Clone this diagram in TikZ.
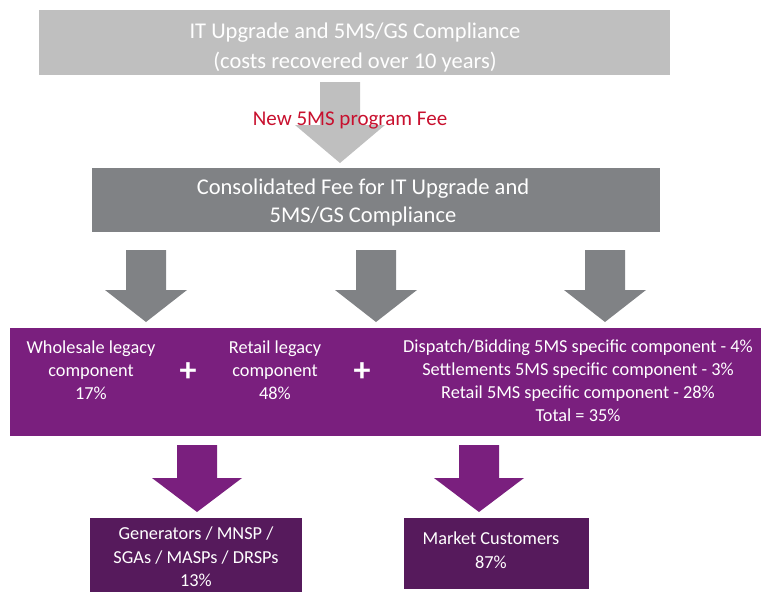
\documentclass[tikz,border=0pt]{standalone}
\usepackage{fontspec}
\setmainfont{Carlito}
\definecolor{lightgrey}{HTML}{BFBFBF}
\definecolor{midgrey}{HTML}{808285}
\definecolor{plum}{HTML}{7A1F7E}
\definecolor{darkplum}{HTML}{561A5C}
\definecolor{feered}{HTML}{C8102E}
% block arrow: centre x, top y, y where the head starts, tip y, half shaft width, half head width, colour
\newcommand\blockarrow[7]{%
  \fill[#7] (#1-#5,#2) -- (#1+#5,#2) -- (#1+#5,#3) -- (#1+#6,#3) -- (#1,#4)
    -- (#1-#6,#3) -- (#1-#5,#3) -- cycle;}
\begin{document}
\begin{tikzpicture}[x=1pt,y=-1pt,
  box/.style={inner sep=0pt,align=center,text=white},
  bandtext/.style={align=center,text=white,font=\fontsize{18.3}{23}\selectfont},
  plus/.style={text=white,font=\fontsize{34}{34}\selectfont\bfseries},
]
\useasboundingbox (0,0) rectangle (761,592);

% top cost box
\fill[lightgrey] (39,10) rectangle (670,75);
\node[box,font=\fontsize{22.5}{30}\selectfont] (top) at (355,47)
  {IT Upgrade and 5MS/GS Compliance\\(costs recovered over 10 years)};

% arrow into the consolidated fee box
\blockarrow{340}{82}{125}{163}{20}{45}{lightgrey}
\node[text=feered,font=\fontsize{21}{22}\selectfont] (fee) at (350,120) {New 5MS program Fee};

% consolidated fee box
\fill[midgrey] (92,168) rectangle (660,232);
\node[box,font=\fontsize{22.5}{28}\selectfont] (cons) at (363,202)
  {Consolidated Fee for IT Upgrade and\\5MS/GS Compliance};

% three arrows into the component band
\blockarrow{146}{250}{290}{322}{20}{41}{midgrey}
\blockarrow{376}{250}{290}{322}{20}{41}{midgrey}
\blockarrow{605}{250}{290}{322}{20}{41}{midgrey}

% component band
\fill[plum] (10,328) rectangle (761,436);
\node[bandtext] (whole) at (91,370) {Wholesale legacy\\component\\17\%};
\node[plus] (plusA) at (188,372) {+};
\node[bandtext] (retail) at (275,370) {Retail legacy\\component\\48\%};
\node[plus] (plusB) at (362,372) {+};
\node[bandtext] (spec) at (578,381)
  {Dispatch/Bidding 5MS specific component - 4\%\\
   Settlements 5MS specific component - 3\%\\
   Retail 5MS specific component - 28\%\\
   Total = 35\%};

% arrows to the participant groups
\blockarrow{197}{445}{478}{512}{20}{45}{plum}
\blockarrow{479}{445}{478}{512}{20}{45}{plum}

% participant group boxes
\fill[darkplum] (90,518) rectangle (302,600);
\node[bandtext,font=\fontsize{18.3}{23.5}\selectfont] (gen) at (196,557)
  {Generators / MNSP /\\SGAs / MASPs / DRSPs\\13\%};
\fill[darkplum] (404,518) rectangle (589,589);
\node[bandtext,font=\fontsize{18.3}{24}\selectfont] (cust) at (491,550)
  {Market Customers\\87\%};
\end{tikzpicture}
\end{document}
